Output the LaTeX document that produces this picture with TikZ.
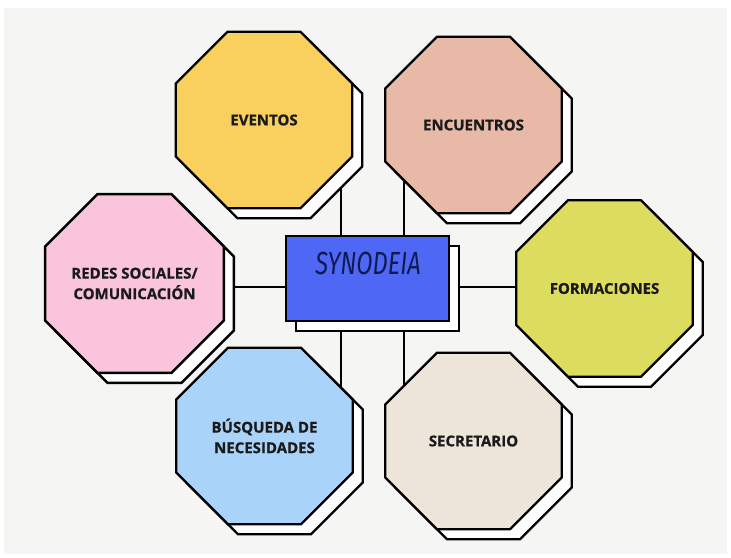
\documentclass[tikz,border=0pt]{standalone}
\usepackage{fontspec}
\setmainfont{Open Sans}
\newfontfamily\labfont[BoldFeatures={FakeBold=0.7}]{Open Sans}
\newfontfamily\synfont[FakeStretch=0.74]{Fira Sans}
\usetikzlibrary{shapes.geometric,shadows}
\definecolor{bgcol}{HTML}{F5F5F3}
\definecolor{cev}{HTML}{F9CF5E}
\definecolor{cen}{HTML}{E8B9A7}
\definecolor{cre}{HTML}{FAC4DC}
\definecolor{cfo}{HTML}{DCDC5E}
\definecolor{cbu}{HTML}{AAD3FA}
\definecolor{cse}{HTML}{EDE4DA}
\definecolor{crect}{HTML}{4E68F5}
\definecolor{ctxt}{HTML}{1A1A1A}
\definecolor{csyn}{HTML}{101A50}
\tikzset{
  oct/.style={regular polygon, regular polygon sides=8, minimum size=191pt,
    inner sep=0pt, draw=black, line width=2.4pt, text=ctxt,
    font=\labfont\bfseries\fontsize{15}{20.5}\selectfont, align=center,
    copy shadow={shadow xshift=10pt, shadow yshift=-10pt, fill=white, draw=black, line width=2.4pt}},
  conn/.style={draw=black, line width=2.2pt},
  boxstyle/.style={draw=black, fill=crect, line width=2.4pt, minimum width=163pt, minimum height=85pt, inner sep=0pt,
    copy shadow={shadow xshift=10pt, shadow yshift=-10pt, fill=white, draw=black, line width=2.4pt}},
}
\begin{document}
\begin{tikzpicture}[x=1pt,y=-1pt]
\useasboundingbox (0,0) rectangle (731,557);
\fill[white] (0,0) rectangle (731,557);
\fill[bgcol] (4,8) rectangle (727,554);
% central box
\node[boxstyle] (rect) at (367.5,278.5) {};
% connectors (behind octagons)
\coordinate (tl) at ([xshift=-26.5pt]rect.north);
\coordinate (tr) at ([xshift=36.5pt]rect.north);
\coordinate (bl) at ([xshift=-26.5pt]rect.south);
\coordinate (br) at ([xshift=36.5pt]rect.south);
\coordinate (hl) at ([yshift=-8.5pt]rect.west);
\coordinate (hr) at ([yshift=-8.5pt]rect.east);
\path (264,120) coordinate (pev) (473.5,125) coordinate (pen) (134.5,283.5) coordinate (pre)
      (604.5,288.5) coordinate (pfo) (264.5,436) coordinate (pbu) (473.5,441) coordinate (pse);
\draw[conn] (tl) -- (tl |- pev);
\draw[conn] (tr) -- (tr |- pen);
\draw[conn] (bl) -- (bl |- pbu);
\draw[conn] (br) -- (br |- pse);
\draw[conn] (hl) -- (hl -| pre);
\draw[conn] (hr) -- (hr -| pfo);
% central box on top of connectors
\node[boxstyle] (box) at (rect) {};
\node[text=csyn, font=\synfont\itshape\fontsize{32}{32}\selectfont, inner sep=0pt] (syn) at (368,263) {SYNODEIA};
% octagons
\node[oct, fill=cev] (ev) at (pev) {EVENTOS};
\node[oct, fill=cen] (en) at (pen) {ENCUENTROS};
\node[oct, fill=cre] (re) at (pre) {REDES SOCIALES/\\COMUNICACIÓN};
\node[oct, fill=cfo] (fo) at (pfo) {FORMACIONES};
\node[oct, fill=cbu] (bu) at (pbu) {BÚSQUEDA DE\\NECESIDADES};
\node[oct, fill=cse] (se) at (pse) {SECRETARIO};
\end{tikzpicture}
\end{document}
